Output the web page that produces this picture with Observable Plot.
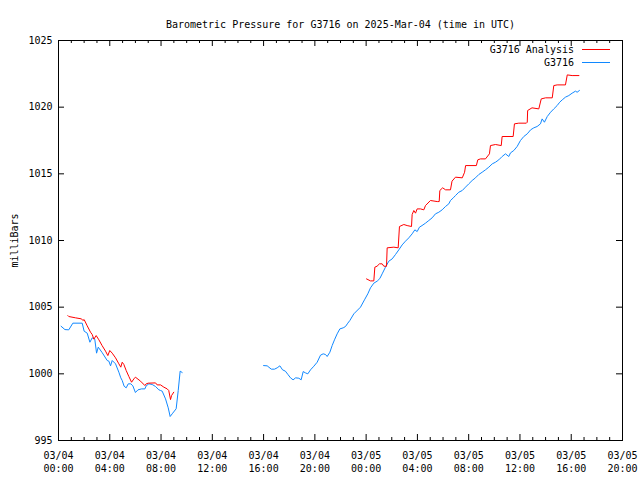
<!DOCTYPE html>
<html>
<head>
<meta charset="utf-8">
<script src="https://cdn.jsdelivr.net/npm/d3@7"></script>
<script src="https://cdn.jsdelivr.net/npm/@observablehq/plot@0.6"></script>
<style>
  html, body { margin: 0; padding: 0; background: #fff; }
</style>
</head>
<body>
<div id="chart"></div>
<script>
// ---- Data (hours after 2025-03-04 00:00 UTC, pressure in mb) ----
const titleText = "Barometric Pressure for G3716 on 2025-Mar-04 (time in UTC)";
const yLabel = "milliBars";
const seriesNames = ["G3716 Analysis", "G3716"];
const seriesColors = ["#ff0000", "#1088ff"];

const stationHours1 = [0.2,0.5,0.8,1.12,1.85,2.0,2.24,2.45,2.63,2.83,2.97,3.1,3.4,3.8,3.93,4.06,4.19,4.45,4.71,4.86,4.97,5.12,5.28,5.44,5.64,5.8,6.0,6.2,6.48,6.74,6.84,7.05,7.31,7.57,7.83,7.96,8.09,8.35,8.56,8.71,8.87,9.18,9.34,9.49,9.65];
const stationPress1 = [1003.57,1003.32,1003.3,1003.8,1003.8,1003.2,1003.05,1002.37,1002.7,1002.6,1001.55,1002.0,1001.6,1001.0,1000.95,1000.6,1001.0,1000.75,1000.12,999.7,999.5,999.07,998.95,999.25,999.25,999.1,998.6,998.8,998.87,998.87,999.1,999.25,999.2,999.05,998.8,998.75,998.7,998.12,997.45,996.8,997.0,997.38,998.75,1000.2,1000.1];

const stationHours2 = [16.0,16.28,16.6,16.85,17.06,17.27,17.48,17.7,17.9,18.1,18.3,18.5,18.75,18.93,19.09,19.27,19.45,19.66,19.92,20.18,20.44,20.65,20.83,20.96,21.17,21.35,21.53,21.74,21.95,22.21,22.39,22.57,22.73,23.04,23.56,23.87,24.13,24.34,24.6,24.86,25.07,25.25,25.51,25.77,26.03,26.29,26.55,26.81,27.07,27.33,27.59,27.8,27.98,28.16,28.36,28.63,28.89,29.15,29.41,29.67,29.93,30.19,30.45,30.58,30.8,30.97,31.23,31.5,31.75,32.01,32.27,32.53,32.79,33.05,33.31,33.57,33.84,34.09,34.35,34.61,34.87,35.13,35.26,35.52,35.78,36.04,36.3,36.57,36.83,37.08,37.34,37.6,37.73,37.91,38.13,38.39,38.64,38.9,39.1,39.3,39.55,39.81,40.07,40.33,40.46,40.64];
const stationPress2 = [1000.62,1000.6,1000.35,1000.35,1000.45,1000.6,1000.3,1000.2,999.95,999.7,999.55,999.7,999.67,999.55,1000.17,1000.07,1000.0,1000.3,1000.57,1000.87,1001.4,1001.5,1001.45,1001.3,1001.62,1002.12,1002.55,1003.0,1003.37,1003.45,1003.55,1003.8,1004.0,1004.5,1005.0,1005.55,1006.0,1006.45,1006.8,1006.95,1007.15,1007.5,1008.0,1008.45,1008.62,1008.95,1009.3,1009.67,1009.95,1010.2,1010.5,1010.8,1010.67,1011.0,1011.12,1011.3,1011.5,1011.7,1012.0,1012.12,1012.3,1012.55,1012.75,1013.0,1013.2,1013.37,1013.62,1013.75,1014.0,1014.25,1014.5,1014.7,1014.95,1015.12,1015.3,1015.5,1015.75,1015.87,1016.05,1016.3,1016.5,1016.3,1016.57,1016.75,1017.05,1017.5,1017.8,1018.0,1018.3,1018.45,1018.55,1018.75,1019.12,1018.87,1019.3,1019.62,1019.87,1020.12,1020.37,1020.55,1020.75,1020.87,1021.05,1021.2,1021.12,1021.25];

const analysisHours1 = [0.73,0.8,1.33,1.8,1.9,2.0,2.24,2.5,2.63,2.76,2.94,3.15,3.4,3.67,3.85,4.0,4.19,4.45,4.71,4.86,4.97,5.1,5.28,5.49,5.7,5.88,6.0,6.4,6.74,6.84,7.0,7.57,7.7,7.96,8.22,8.48,8.6,8.74,8.82,8.99];
const analysisPress1 = [1004.37,1004.3,1004.2,1004.12,1004.0,1004.07,1003.6,1003.12,1002.95,1002.6,1002.87,1002.55,1002.12,1001.7,1001.37,1001.75,1001.55,1001.2,1000.75,1000.5,1000.87,1000.7,1000.25,999.8,999.37,999.62,999.75,999.45,999.12,999.25,999.3,999.32,999.17,999.17,999.0,998.87,998.75,998.07,998.37,998.62];

const analysisHours2 = [24.03,24.34,24.6,24.68,24.85,25.04,25.25,25.38,25.59,25.64,26.16,26.5,26.6,26.94,27.2,27.54,27.59,27.72,27.85,27.98,28.24,28.5,28.63,29.02,29.55,29.7,29.75,29.97,30.2,30.58,30.7,30.97,31.5,31.68,31.76,32.6,32.71,32.92,33.31,33.62,33.7,34.09,34.54,34.61,35.47,35.57,35.91,36.5,36.57,36.6,36.94,37.47,37.66,38.0,38.52,38.64,38.9,39.55,39.69,40.07,40.6];
const analysisPress2 = [1007.12,1006.97,1006.97,1008.0,1008.07,1008.25,1008.25,1008.07,1008.07,1009.45,1009.5,1009.45,1011.05,1011.2,1011.12,1011.05,1011.95,1012.25,1012.05,1012.37,1012.37,1012.3,1012.62,1013.0,1012.92,1012.92,1013.75,1013.95,1013.8,1013.8,1014.45,1014.75,1014.7,1015.12,1015.62,1015.62,1016.05,1016.12,1016.12,1016.5,1017.12,1017.2,1017.12,1017.8,1017.8,1018.75,1018.8,1018.8,1018.87,1019.75,1019.95,1019.87,1020.62,1020.7,1020.7,1021.62,1021.67,1021.67,1022.42,1022.37,1022.37];

const yTicks = [995, 1000, 1005, 1010, 1015, 1020, 1025];
const xMajorHours = [0, 4, 8, 12, 16, 20, 24, 28, 32, 36, 40, 44];
const xDomainHours = [0, 44];

// ---- Build table ----
const t0 = Date.UTC(2025, 2, 4, 0, 0, 0);
const toDate = h => new Date(t0 + h * 3600e3);

function rows(hours, press, series, seg) {
  return hours.map((h, i) => ({time: toDate(h), p: press[i], series, seg}));
}
const data = [
  ...rows(stationHours1, stationPress1, seriesNames[1], "s1"),
  ...rows(stationHours2, stationPress2, seriesNames[1], "s2"),
  ...rows(analysisHours1, analysisPress1, seriesNames[0], "a1"),
  ...rows(analysisHours2, analysisPress2, seriesNames[0], "a2")
];
const colorOf = s => seriesColors[seriesNames.indexOf(s)];

const xMajor = xMajorHours.map(toDate);
const xMinor = d3.range(xDomainHours[0], xDomainHours[1] + 1).filter(h => h % 4 !== 0).map(toDate);
const fmt = d3.utcFormat("%m/%d\n%H:%M");

const W = 640, H = 480;
const mL = 58, mR = 18, mT = 40, mB = 40;
const fw = W - mL - mR, fh = H - mT - mB;
const font = "DejaVu Sans Mono";

// legend as a custom mark
function legendMark(index, scales, values, dims) {
  const g = d3.create("svg:g");
  const xEnd = dims.width - dims.marginRight;
  seriesNames.forEach((name, i) => {
    const yy = dims.marginTop + 10 + i * 13;
    g.append("text")
      .attr("x", xEnd - 48).attr("y", yy)
      .attr("text-anchor", "end").attr("dominant-baseline", "middle")
      .attr("font-family", font).attr("font-size", 10).attr("fill", "black")
      .text(name);
    g.append("line")
      .attr("x1", xEnd - 40).attr("x2", xEnd - 12)
      .attr("y1", yy - 0.5).attr("y2", yy - 0.5)
      .attr("stroke", seriesColors[i]).attr("stroke-width", 1);
  });
  return g.node();
}

const chart = Plot.plot({
  width: W, height: H,
  marginLeft: mL, marginRight: mR, marginTop: mT, marginBottom: mB,
  style: {fontFamily: font, fontSize: "10px", background: "white", color: "black"},
  x: {type: "utc", domain: xDomainHours.map(toDate)},
  y: {domain: [995, 1025]},
  marks: [
    Plot.frame({stroke: "black", strokeWidth: 1}),
    // inward ticks (bottom + top mirror), major and minor
    Plot.ruleX(xMajor, {x: d => d, insetTop: fh - 6, stroke: "black"}),
    Plot.ruleX(xMajor, {x: d => d, insetBottom: fh - 6, stroke: "black"}),
    Plot.ruleX(xMinor, {x: d => d, insetTop: fh - 3, stroke: "black"}),
    Plot.ruleX(xMinor, {x: d => d, insetBottom: fh - 3, stroke: "black"}),
    Plot.ruleY(yTicks, {y: d => d, insetRight: fw - 6, stroke: "black"}),
    Plot.ruleY(yTicks, {y: d => d, insetLeft: fw - 6, stroke: "black"}),
    Plot.axisX({ticks: xMajor, tickSize: 0, tickPadding: 9, tickFormat: d => fmt(d), lineHeight: 1.3, label: null, fontSize: 10}),
    Plot.axisY({ticks: yTicks, tickSize: 0, tickPadding: 6, tickFormat: d => String(d), label: yLabel, labelAnchor: "center", labelOffset: 48, labelArrow: "none", fontSize: 10}),
    Plot.line(data, {x: "time", y: "p", z: "seg", stroke: d => colorOf(d.series), strokeWidth: 1}),
    Plot.text([titleText], {text: d => d, frameAnchor: "top", dy: -20, fontSize: 10, fill: "black"}),
    legendMark
  ]
});
document.getElementById("chart").appendChild(chart);
</script>
</body>
</html>
